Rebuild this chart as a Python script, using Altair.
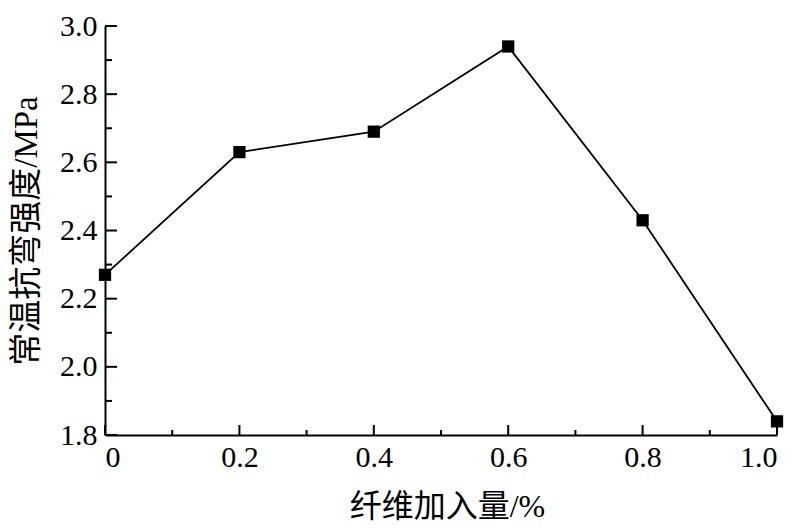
import altair as alt
import pandas as pd

fiber = [0.0, 0.2, 0.4, 0.6, 0.8, 1.0]
strength = [2.27, 2.63, 2.69, 2.94, 2.43, 1.84]

x_major = [0.0, 0.2, 0.4, 0.6, 0.8, 1.0]
x_minor = [0.1, 0.3, 0.5, 0.7, 0.9]
y_major = [1.8, 2.0, 2.2, 2.4, 2.6, 2.8, 3.0]
y_minor = [1.9, 2.1, 2.3, 2.5, 2.7, 2.9]

W, H = 672, 409
FONT = "Liberation Serif, 'Noto Sans CJK SC'"

df = pd.DataFrame({"x": fiber, "y": strength})

xs = alt.Scale(domain=[0, 1.0], nice=False, zero=False)
ys = alt.Scale(domain=[1.8, 3.0], nice=False, zero=False)

x_axis = alt.Axis(
    values=x_major,
    labelExpr="datum.value == 0 ? '0' : format(datum.value, '.1f')",
    title="纤维加入量/%", titleFontSize=32,
    titleX=W / 2 + 6, titleY=71, titleBaseline="middle", titleAlign="center",
    labelPadding=7,
)
y_axis = alt.Axis(
    values=y_major, format=".1f",
    title="常温抗弯强度/MPa", titleFontSize=33,
    titleX=-79, titleY=H / 2, titleAngle=-90,
    titleBaseline="middle", titleAlign="center",
    labelPadding=8,
)

line = alt.Chart(df).mark_line(color="black", strokeWidth=1.8).encode(
    x=alt.X("x:Q", scale=xs, axis=x_axis),
    y=alt.Y("y:Q", scale=ys, axis=y_axis),
)
pts = alt.Chart(df).mark_square(color="black", size=150, opacity=1).encode(
    x=alt.X("x:Q", scale=xs, axis=x_axis),
    y=alt.Y("y:Q", scale=ys, axis=y_axis),
)

def xticks(vals, length):
    d = pd.DataFrame({"v": vals})
    return alt.Chart(d).mark_rule(color="black", strokeWidth=2).encode(
        x=alt.X("v:Q", scale=xs, axis=x_axis),
        y=alt.value(H),
        y2=alt.value(H - length),
    )

def yticks(vals, length):
    d = pd.DataFrame({"v": vals})
    return alt.Chart(d).mark_rule(color="black", strokeWidth=2).encode(
        y=alt.Y("v:Q", scale=ys, axis=y_axis),
        x=alt.value(0),
        x2=alt.value(length),
    )

chart = alt.layer(
    line, pts,
    xticks(x_major, 10), xticks(x_minor, 5),
    yticks(y_major, 12), yticks(y_minor, 7),
).properties(
    width=W, height=H,
    autosize=alt.AutoSizeParams(type="none"),
    padding={"left": 97, "top": 18, "right": 14, "bottom": 92},
).configure(background="white").configure_view(strokeWidth=0).configure_axis(
    tickSize=0, grid=False, domainWidth=2, domainColor="black", domainOpacity=1,
    labelFont=FONT, labelFontSize=30, labelColor="black",
    titleFont=FONT, titleFontWeight="normal", titleColor="black",
)

chart.save("out.html", embed_options={"renderer": "svg", "actions": False})
